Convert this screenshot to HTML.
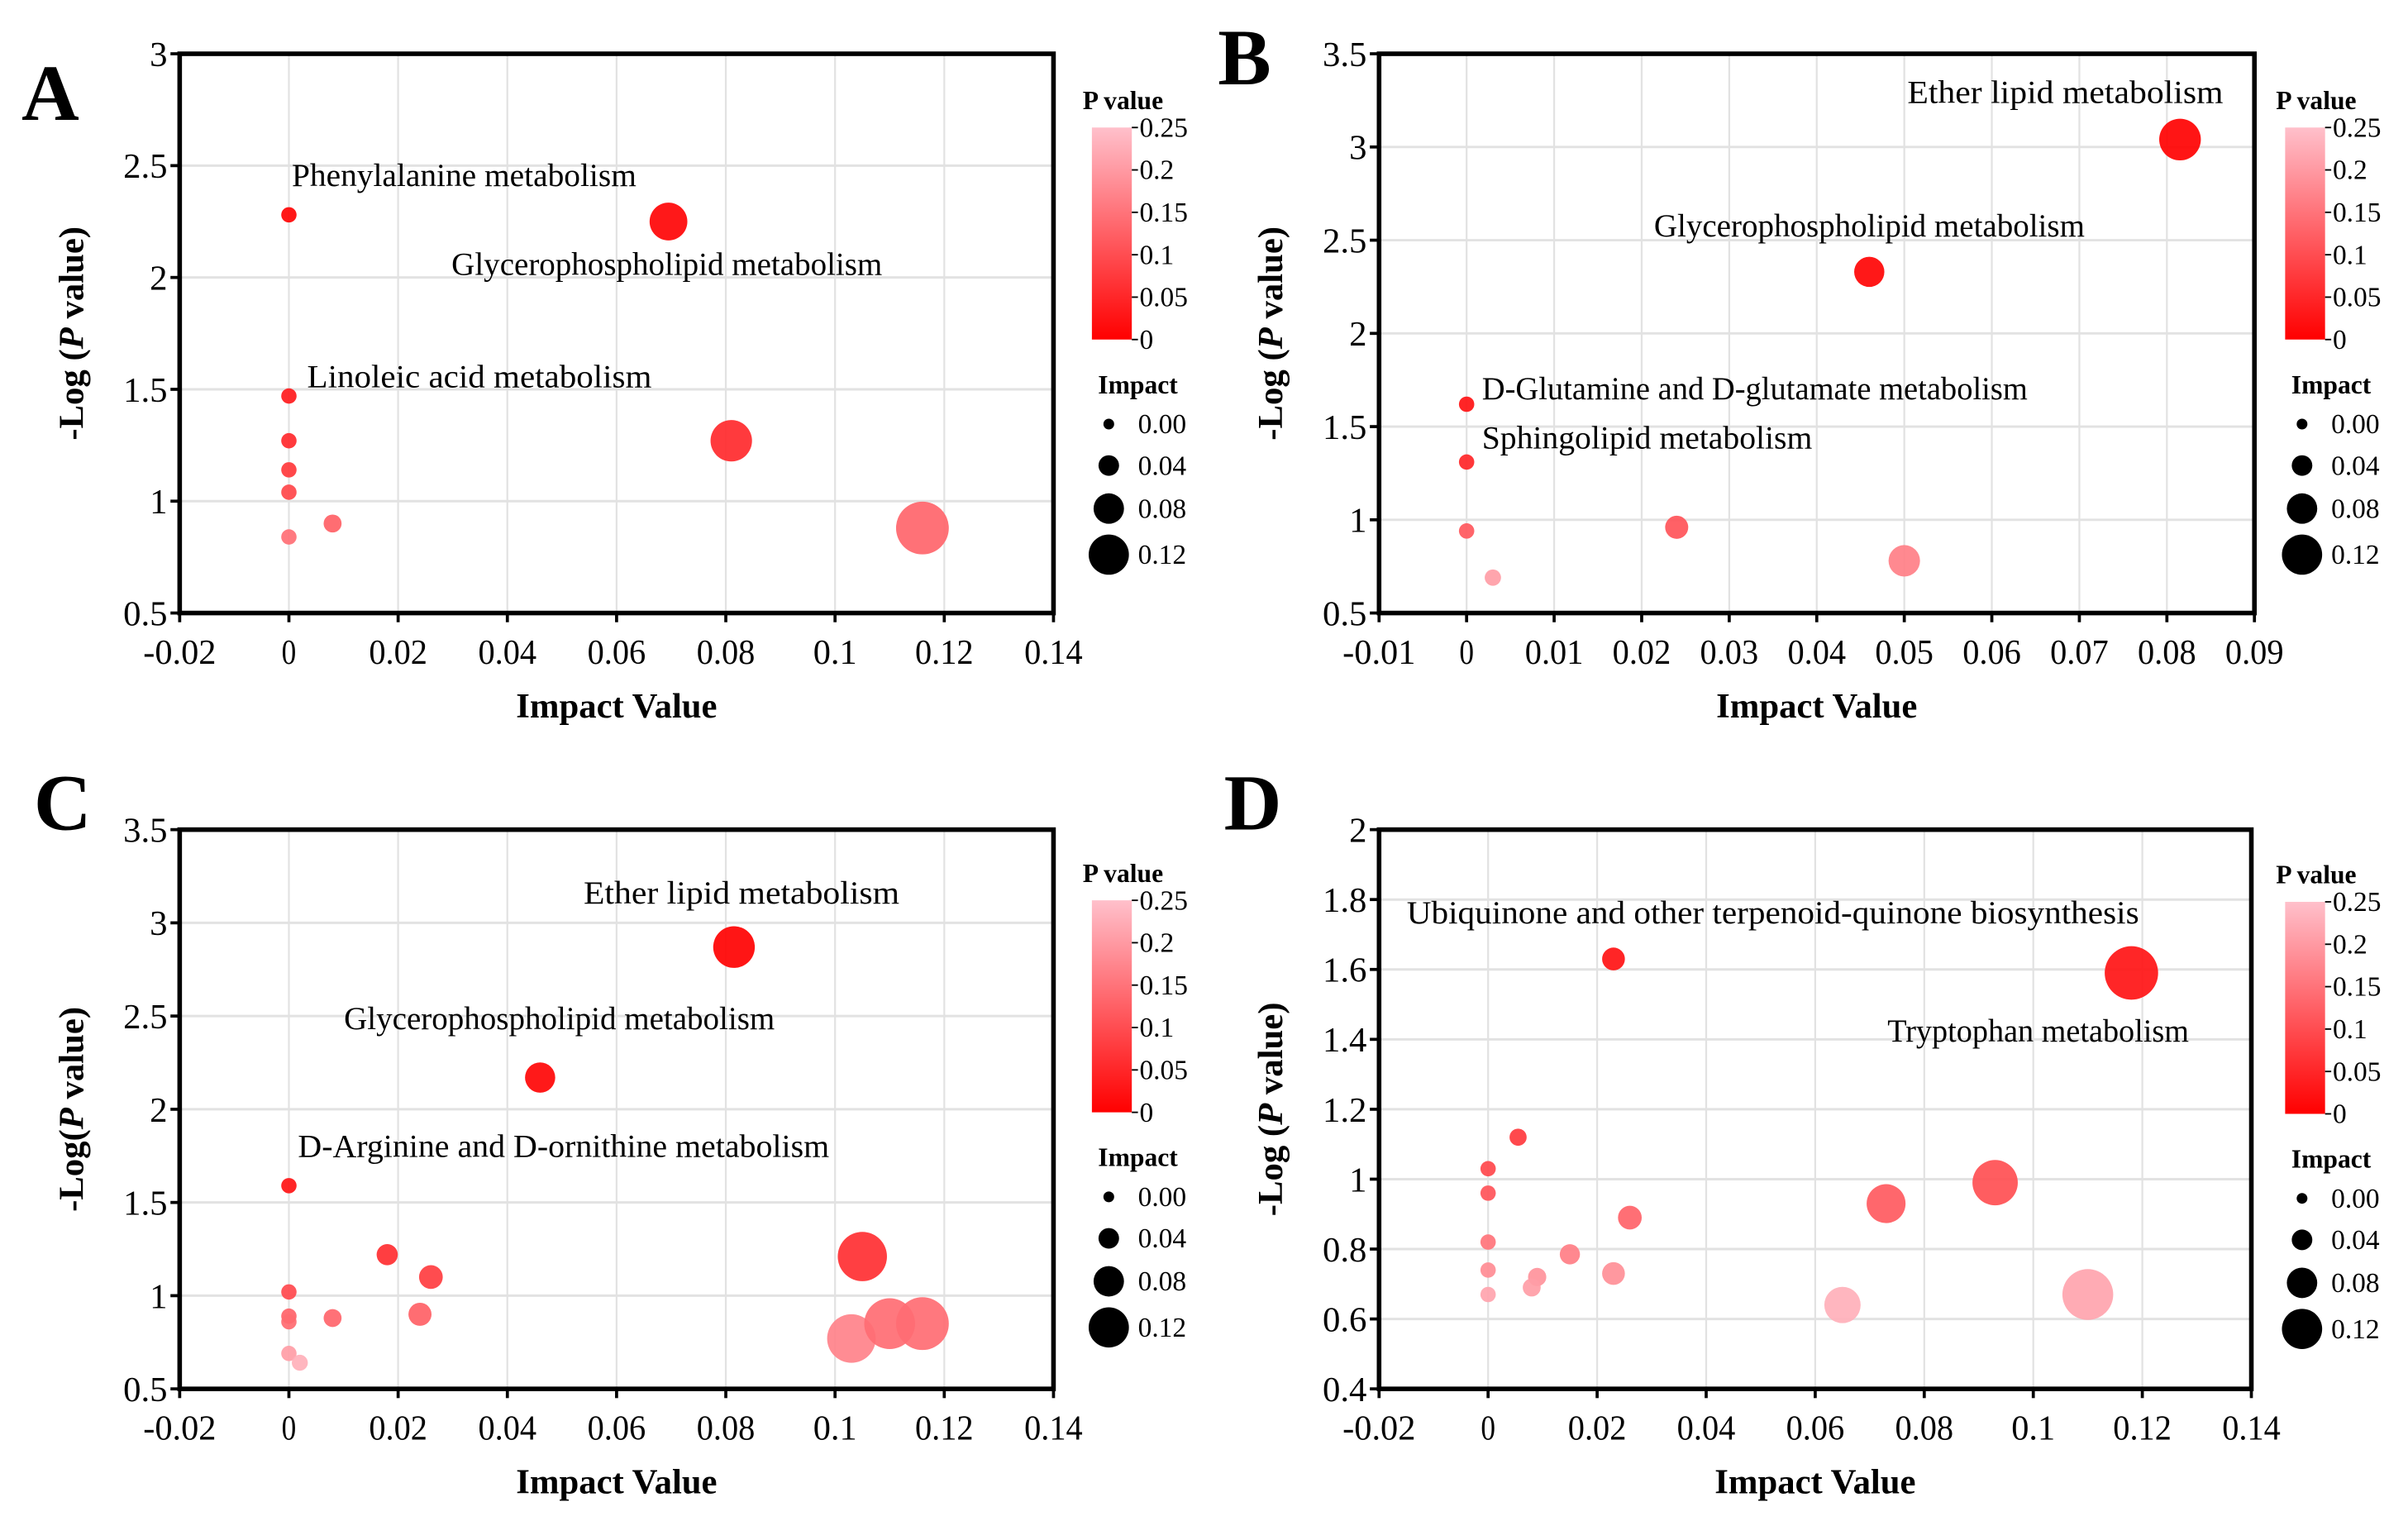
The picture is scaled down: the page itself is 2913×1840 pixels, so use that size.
<!DOCTYPE html>
<html><head><meta charset="utf-8"><style>
html,body{margin:0;padding:0;background:#fff;}
svg{display:block;font-family:"Liberation Serif",serif;}
</style></head><body>
<svg id="fig" width="2913" height="1840" viewBox="0 0 1568 990" preserveAspectRatio="none" xmlns="http://www.w3.org/2000/svg">
<defs>
<linearGradient id="pgrad" x1="0" y1="1" x2="0" y2="0">
<stop offset="0" stop-color="#ff0000"/><stop offset="1" stop-color="#ffc0cb"/>
</linearGradient>
</defs>
</svg>
<script>
// Panel A data
const aImpact=[0,0.0695,0,0.081,0,0,0,0,0.008,0.116];
const aLogP=[2.28,2.25,1.47,1.27,1.27,1.14,1.04,0.84,0.90,0.88];
const aLabels=[["Phenylalanine metabolism",190,121],["Glycerophospholipid metabolism",294,179],["Linoleic acid metabolism",200,252]];
const aXTicks=[-0.02,0,0.02,0.04,0.06,0.08,0.1,0.12,0.14];
const aYTicks=[0.5,1,1.5,2,2.5,3];
// Panel B data
const bImpact=[0.0815,0.046,0,0,0,0.003,0.024,0.05];
const bLogP=[3.04,2.33,1.62,1.31,0.94,0.69,0.96,0.78];
const bLabels=[["Ether lipid metabolism",1242,67],["Glycerophospholipid metabolism",1077,154],["D-Glutamine and D-glutamate metabolism",965,260],["Sphingolipid metabolism",965,292]];
const bXTicks=[-0.01,0,0.01,0.02,0.03,0.04,0.05,0.06,0.07,0.08,0.09];
const bYTicks=[0.5,1,1.5,2,2.5,3,3.5];
// Panel C data
const cImpact=[0.0815,0.046,0,0.018,0.026,0,0,0,0.008,0.024,0,0.002,0.105,0.103,0.11,0.116];
const cLogP=[2.87,2.17,1.59,1.22,1.10,1.02,0.89,0.86,0.88,0.90,0.69,0.64,1.21,0.77,0.85,0.85];
const cLabels=[["Ether lipid metabolism",380,588],["Glycerophospholipid metabolism",224,670],["D-Arginine and D-ornithine metabolism",194,753]];
const cXTicks=[-0.02,0,0.02,0.04,0.06,0.08,0.1,0.12,0.14];
const cYTicks=[0.5,1,1.5,2,2.5,3,3.5];
// Panel D data
const dImpact=[0.023,0.118,0.0055,0,0,0.026,0,0.015,0,0.009,0.008,0,0.023,0.073,0.093,0.065,0.110];
const dLogP=[1.63,1.59,1.12,1.03,0.96,0.89,0.82,0.785,0.74,0.72,0.69,0.67,0.73,0.93,0.99,0.64,0.67];
const dLabels=[["Ubiquinone and other terpenoid-quinone biosynthesis",916,601],["Tryptophan metabolism",1229,678]];
const dXTicks=[-0.02,0,0.02,0.04,0.06,0.08,0.1,0.12,0.14];
const dYTicks=[0.4,0.6,0.8,1,1.2,1.4,1.6,1.8,2];
const legendP=["0.25","0.2","0.15","0.1","0.05","0"];
const legendImpact=[0,0.04,0.08,0.12];

const NS="http://www.w3.org/2000/svg";
const svg=document.getElementById('fig');
function mk(tag,attrs,parent){const e=document.createElementNS(NS,tag);for(const k in attrs)e.setAttribute(k,attrs[k]);(parent||svg).appendChild(e);return e;}
function txt(s,attrs,parent){const e=mk('text',attrs,parent);e.textContent=s;return e;}
function rad(v){return 5+105*v;}
function col(lp){let p=Math.pow(10,-lp);let t=Math.min(1,Math.max(0,p/0.25));
 const r=255,g=Math.round(192*t),b=Math.round(203*t);return `rgb(${r},${g},${b})`;}

function panel(cfg){
 const g=mk('g',{});
 
 
 const {x0,x1,y0,y1,xmin,xmax,ymin,ymax}=cfg;
 const sx=v=>x0+(v-xmin)/(xmax-xmin)*(x1-x0);
 const sy=v=>y1-(v-ymin)/(ymax-ymin)*(y1-y0);
 cfg.xt.forEach(t=>{const l=mk('line',{x1:sx(t),x2:sx(t),y1:y0,y2:y1,stroke:'#e2e2e2','stroke-width':1.2},g);
  
  const tk=mk('line',{x1:sx(t),x2:sx(t),y1:y1,y2:y1+6,stroke:'#000','stroke-width':2},g);
  
  const s=txt(String(t),{x:sx(t),y:y1+33,'text-anchor':'middle','font-size':23,'textLength':String(t).length*9.5,'lengthAdjust':'spacingAndGlyphs'},g);
  });
 cfg.yt.forEach(t=>{const l=mk('line',{x1:x0,x2:x1,y1:sy(t),y2:sy(t),stroke:'#e2e2e2','stroke-width':1.6},g);
  
  const tk=mk('line',{x1:x0-6,x2:x0,y1:sy(t),y2:sy(t),stroke:'#000','stroke-width':2},g);
  
  const s=txt(String(t),{x:x0-8,y:sy(t)+8,'text-anchor':'end','font-size':23},g);
  });
 const fr=mk('rect',{x:x0,y:y0,width:x1-x0,height:y1-y0,fill:'none',stroke:'#000','stroke-width':3},g);
 
 cfg.imp.forEach((v,i)=>{const c=mk('circle',{cx:sx(v),cy:sy(cfg.lp[i]),r:rad(v),fill:col(cfg.lp[i]),'fill-opacity':0.92},g);
  });
 cfg.labels.forEach(L=>{const s=txt(L[0],{x:L[1],y:L[2],'font-size':21,'textLength':L[0].length*9.35,'lengthAdjust':'spacingAndGlyphs'},g);
  });
 const xt=txt('Impact Value',{x:(x0+x1)/2,y:y1+68,'text-anchor':'middle','font-size':23,'font-weight':'bold'},g);
 
 const yx=cfg.ytx,yy=(y0+y1)/2;
 const yt=mk('text',{x:yx,y:yy,'text-anchor':'middle','font-size':23,'font-weight':'bold',transform:`rotate(-90 ${yx} ${yy})`},g);
 
 if(cfg.compact){yt.innerHTML='-Log(<tspan font-style="italic">P</tspan> value)';}
 else{yt.innerHTML='-Log (<tspan font-style="italic">P</tspan> value)';}
 const pl=txt(cfg.letter,{x:cfg.lx,y:cfg.ly,'font-size':52,'font-weight':'bold'},g);
 
 const cx=cfg.cbx,cy=cfg.cby,ch=138;
 const pt=txt('P value',{x:cx-6,y:cy-12,'font-size':17,'font-weight':'bold'},g);
 
 const cb=mk('rect',{x:cx,y:cy,width:26,height:ch,fill:'url(#pgrad)'},g);
 
 legendP.forEach((s,i)=>{const yy2=cy+i*ch/5;
  const tk=mk('line',{x1:cx+26,x2:cx+30,y1:yy2,y2:yy2,stroke:'#000','stroke-width':1},g);
  
  const t=txt(s,{x:cx+31,y:yy2+6,'font-size':18},g);
  });
 const it=txt('Impact',{x:cx+4,y:cy+173,'font-size':17,'font-weight':'bold'},g);
 
 const ly=[193,220,248,278];
 legendImpact.forEach((v,i)=>{const c=mk('circle',{cx:cx+11,cy:cy+ly[i],r:3.5+80*v,fill:'#000'},g);
  
  const t=txt(v.toFixed(2),{x:cx+30,y:cy+ly[i]+6,'font-size':18},g);
  });
}
panel({name:'panel-a',letter:'A',lx:14,ly:78,x0:117,x1:686,y0:35,y1:399,xmin:-0.02,xmax:0.14,ymin:0.5,ymax:3,xt:aXTicks,yt:aYTicks,imp:aImpact,lp:aLogP,labels:aLabels,ytx:54,cbx:711,cby:83});
panel({name:'panel-b',letter:'B',lx:793,ly:55,x0:898,x1:1468,y0:35,y1:399,xmin:-0.01,xmax:0.09,ymin:0.5,ymax:3.5,xt:bXTicks,yt:bYTicks,imp:bImpact,lp:bLogP,labels:bLabels,ytx:835,cbx:1488,cby:83});
panel({name:'panel-c',letter:'C',lx:22,ly:540,x0:117,x1:686,y0:540,y1:904,xmin:-0.02,xmax:0.14,ymin:0.5,ymax:3.5,xt:cXTicks,yt:cYTicks,imp:cImpact,lp:cLogP,labels:cLabels,ytx:54,cbx:711,cby:586,compact:true});
panel({name:'panel-d',letter:'D',lx:797,ly:540,x0:898,x1:1466,y0:540,y1:904,xmin:-0.02,xmax:0.14,ymin:0.4,ymax:2,xt:dXTicks,yt:dYTicks,imp:dImpact,lp:dLogP,labels:dLabels,ytx:835,cbx:1488,cby:587});
</script>
</body></html>
